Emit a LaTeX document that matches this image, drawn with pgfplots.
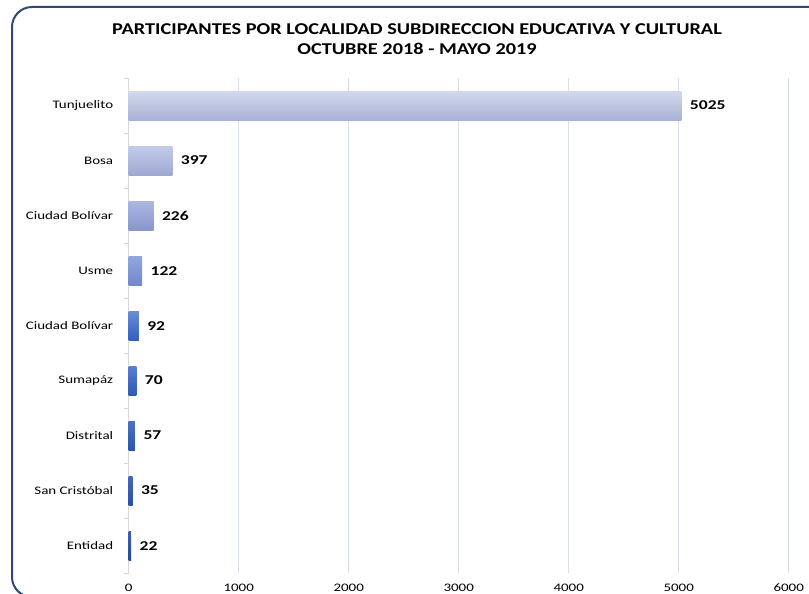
\documentclass[border=0pt]{standalone}
\usepackage{fontspec}
\setmainfont{Carlito}[FakeStretch=1.3]
\newfontfamily\titlefont{Carlito}[FakeStretch=1.23]
\usepackage{pgfplots}
\pgfplotsset{compat=1.18}
\definecolor{frame}{HTML}{2F4A73}
\definecolor{gridc}{HTML}{D9DFE9}
\definecolor{axc}{HTML}{D4D8DE}
\begin{document}
\begin{tikzpicture}[x=1pt,y=1pt]
\path[use as bounding box] (0,0) rectangle (809,594);
\clip (0,0) rectangle (809,594);
\draw[frame, line width=2pt, rounded corners=20pt] (12,-3) rectangle (840,587);
\node[font=\titlefont\bfseries\fontsize{16.5}{21}\selectfont, anchor=center] at (417,565) {PARTICIPANTES POR LOCALIDAD SUBDIRECCION EDUCATIVA Y CULTURAL};
\node[font=\titlefont\bfseries\fontsize{16.5}{21}\selectfont, anchor=center] at (417,545) {OCTUBRE 2018 - MAYO 2019};
\begin{axis}[
  at={(117,38)}, anchor=south west,
  width=660, height=495, scale only axis,
  xmin=0, xmax=6000, ymin=-0.5, ymax=8.5,
  xtick={0,1000,...,6000},
  ytick={0,...,8},
  yticklabels={Entidad,San Cristóbal,Distrital,Sumapáz,Ciudad Bolívar,Usme,Ciudad Bolívar,Bosa,Tunjuelito},
  minor ytick={-0.5,0.5,...,8.5},
  major tick length=0pt, minor tick length=5pt,
  tick align=outside,
  minor y tick style={axc, line width=0.8pt},
  axis lines=left,
  axis line style={-},
  x axis line style={draw=none},
  y axis line style={axc, line width=1pt},
  xmajorgrids, major grid style={gridc, line width=1pt},
  /pgf/number format/assume math mode=true,
  /pgf/number format/1000 sep={},
  ticklabel style={font=\fontsize{11.5}{13}\selectfont},
  yticklabel style={xshift=-12pt},
  xticklabel style={yshift=-7pt},
  xbar, bar width=29pt, bar shift=0pt,
  nodes near coords,
  every node near coord/.append style={font=\bfseries\fontsize{13.5}{15}\selectfont, anchor=west, xshift=5pt, black},
  every axis plot/.append style={draw=none, shading=axis, shading angle=0},
  clip=false,
]
\addplot[top color={rgb,255:red,210;green,216;blue,238}, bottom color={rgb,255:red,168;green,178;blue,214}] coordinates {(5025,8)};
\addplot[top color={rgb,255:red,196;green,203;blue,234}, bottom color={rgb,255:red,158;green,168;blue,210}] coordinates {(397,7)};
\addplot[top color={rgb,255:red,171;green,182;blue,226}, bottom color={rgb,255:red,136;green,152;blue,204}] coordinates {(226,6)};
\addplot[top color={rgb,255:red,147;green,166;blue,222}, bottom color={rgb,255:red,112;green,136;blue,204}] coordinates {(122,5)};
\addplot[top color={rgb,255:red,106;green,139;blue,216}, bottom color={rgb,255:red,52;green,96;blue,188}] coordinates {(92,4)};
\addplot[top color={rgb,255:red,90;green,126;blue,208}, bottom color={rgb,255:red,46;green,90;blue,182}] coordinates {(70,3)};
\addplot[top color={rgb,255:red,78;green,112;blue,196}, bottom color={rgb,255:red,42;green,85;blue,174}] coordinates {(57,2)};
\addplot[top color={rgb,255:red,70;green,104;blue,190}, bottom color={rgb,255:red,40;green,80;blue,166}] coordinates {(35,1)};
\addplot[top color={rgb,255:red,62;green,94;blue,180}, bottom color={rgb,255:red,38;green,74;blue,156}] coordinates {(22,0)};
\end{axis}
\end{tikzpicture}
\end{document}
